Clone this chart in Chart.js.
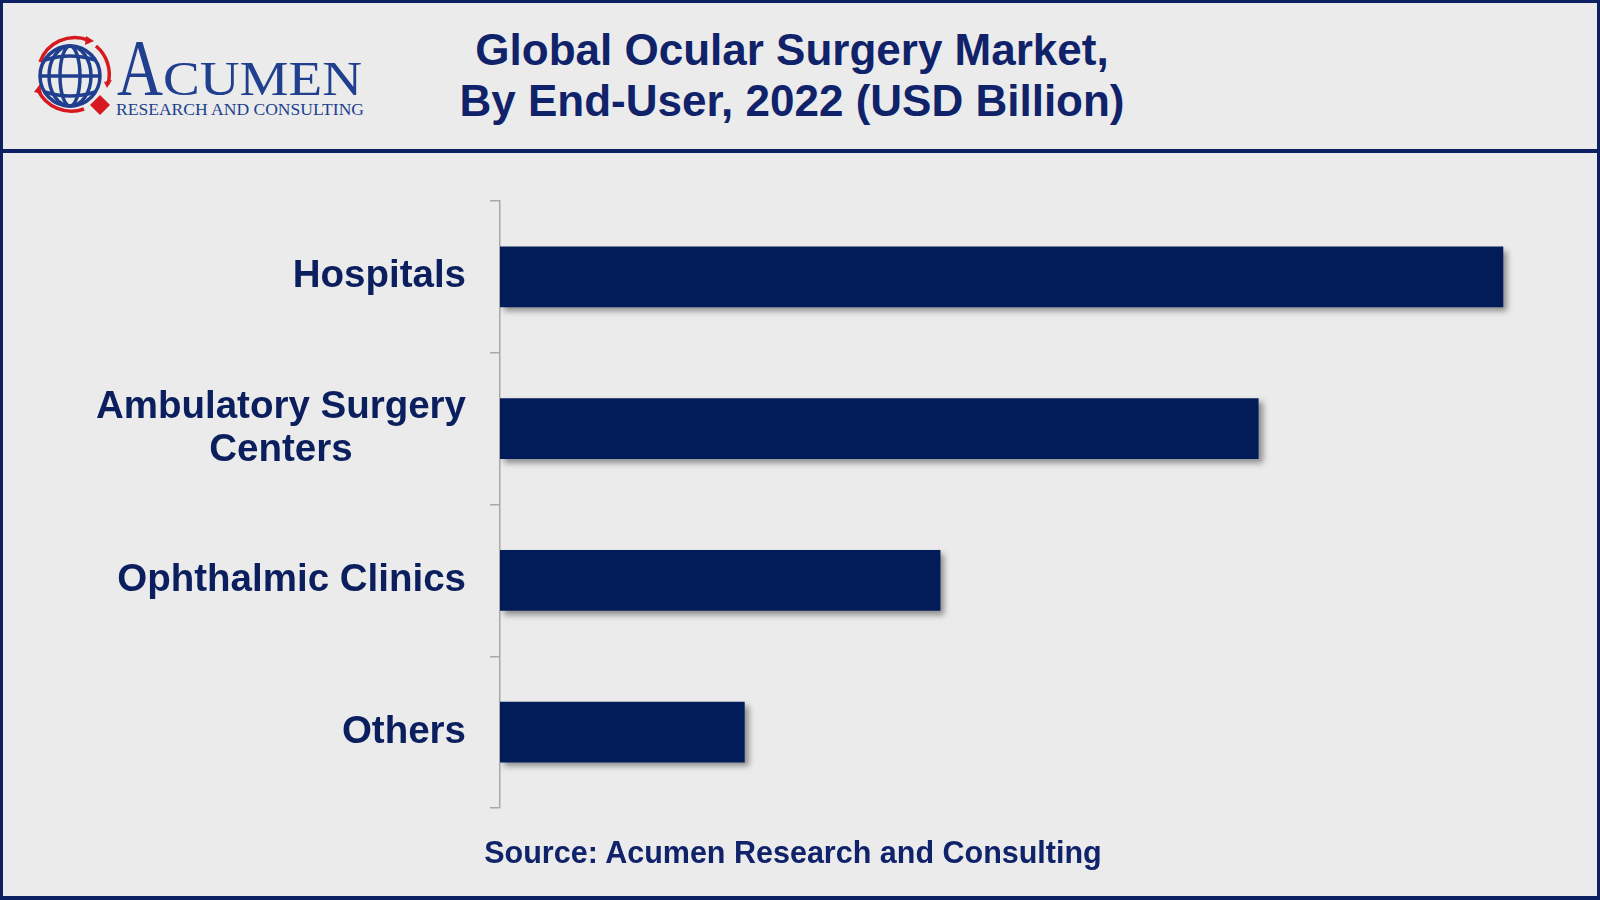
<!DOCTYPE html>
<html>
<head>
<meta charset="utf-8">
<script src="https://cdn.jsdelivr.net/npm/chart.js@4.4.1/dist/chart.umd.min.js"></script>
<style>
  body { margin: 0; background: #ebebeb; }
  #page { position: relative; width: 1600px; height: 900px; background: #ebebeb; overflow: hidden; }
  #frame { position: absolute; left: 0; top: 0; width: 1600px; height: 900px; box-sizing: border-box;
           border: 3px solid #0b2161; border-bottom-width: 4px; pointer-events: none; }
  #rule { position: absolute; left: 0; top: 149px; width: 1600px; height: 4px; background: #0b2161; }
  #title { position: absolute; left: 292px; top: 24px; width: 1000px; text-align: center;
           font: bold 44px/51px "Liberation Sans", Arial, sans-serif; color: #10236a; }
  #source { position: absolute; left: 293px; top: 834px; width: 1000px; text-align: center;
            font: bold 30.5px/36px "Liberation Sans", Arial, sans-serif; color: #10236a; }
  #logo { position: absolute; left: 0; top: 0; }
  #chart { position: absolute; left: 0; top: 155px; }
</style>
</head>
<body>
<div id="page">
  <svg id="logo" width="400" height="140" viewBox="0 0 400 140">
    <g fill="none" stroke="#d7191f" stroke-width="3.5">
      <path d="M 40 62 A 37 37 0 0 1 88 40" />
      <path d="M 96 46 A 37 37 0 0 1 108 84" />
      <path d="M 84 109 A 37 37 0 0 1 38 90" />
    </g>
    <g fill="#d7191f">
      <polygon points="86,36 94,41 85,45" />
      <polygon points="104,82 112,80 107,88" />
      <polygon points="40,84 34,92 42,94" />
      <polygon points="100,95 110,105 100,115 90,105" />
    </g>
    <g fill="none" stroke="#203f8f" stroke-width="3.5">
      <circle cx="70" cy="76" r="30" />
      <ellipse cx="70" cy="76" rx="10" ry="30" />
      <ellipse cx="70" cy="76" rx="21" ry="30" />
      <line x1="40" y1="76" x2="100" y2="76" />
      <path d="M 45 60 Q 70 52 95 60" />
      <path d="M 45 92 Q 70 100 95 92" />
    </g>
    <g fill="#203f8f" font-family="'Liberation Serif', 'DejaVu Serif', serif">
      <text x="117" y="95" font-size="80" textLength="46" lengthAdjust="spacingAndGlyphs">A</text>
      <text x="163" y="95" font-size="48" textLength="199" lengthAdjust="spacingAndGlyphs">CUMEN</text>
      <text x="116" y="115" font-size="16" textLength="248" lengthAdjust="spacingAndGlyphs">RESEARCH AND CONSULTING</text>
    </g>
  </svg>
  <div id="title">Global Ocular Surgery Market,<br>By End-User, 2022 (USD Billion)</div>
  <div id="rule"></div>
  <canvas id="chart" width="1600" height="685"></canvas>
  <div id="source">Source: Acumen Research and Consulting</div>
  <div id="frame"></div>
</div>
<script>
// 카테고리 & 값 (USD Billion, 그림에서 추정)
const categories = ['Hospitals', ['Ambulatory Surgery', 'Centers'], 'Ophthalmic Clinics', 'Others'];
const values = [4.1, 3.1, 1.8, 1.0];
const xMax = 4.25;

const barColor = '#021c5a';
const labelColor = '#0b1f5e';

// 막대 그림자
const shadowPlugin = {
    id: 'barShadow',
    beforeDatasetsDraw(chart) {
        const ctx = chart.ctx;
        ctx.save();
        ctx.shadowColor = 'rgba(0, 0, 0, 0.4)';
        ctx.shadowOffsetX = 4;
        ctx.shadowOffsetY = 4;
        ctx.shadowBlur = 6;
    },
    afterDatasetsDraw(chart) {
        chart.ctx.restore();
    }
};

// 여러 줄 라벨을 가운데 정렬해서 그리기
const labelPlugin = {
    id: 'centerLabels',
    afterDraw(chart) {
        const ctx = chart.ctx;
        const scale = chart.scales.y;
        const right = 466;
        const lineH = 43;
        ctx.save();
        ctx.font = 'bold 38.5px "Liberation Sans", Arial, sans-serif';
        ctx.fillStyle = labelColor;
        ctx.textBaseline = 'middle';
        ctx.textAlign = 'center';
        categories.forEach((label, i) => {
            const lines = Array.isArray(label) ? label : [label];
            const w = Math.max(...lines.map(l => ctx.measureText(l).width));
            const cx = right - w / 2;
            const y0 = scale.getPixelForTick(i) - (lines.length - 1) * lineH / 2;
            lines.forEach((l, j) => ctx.fillText(l, cx, y0 + j * lineH));
        });
        ctx.restore();
    }
};

const ctx = document.getElementById('chart').getContext('2d');

new Chart(ctx, {
    type: 'bar',
    data: {
        labels: categories,
        datasets: [{
            data: values,
            backgroundColor: barColor,
            categoryPercentage: 1,
            barPercentage: 0.4
        }]
    },
    options: {
        indexAxis: 'y',
        responsive: false,
        animation: false,
        layout: { padding: { top: 46, bottom: 32, left: 0, right: 60 } },
        plugins: {
            legend: { display: false },
            tooltip: { enabled: false }
        },
        scales: {
            x: { display: false, min: 0, max: xMax },
            y: {
                afterFit(scale) { scale.width = 500; },
                ticks: { display: false },
                grid: { drawOnChartArea: false, drawTicks: true, tickLength: 10, color: '#a8a8a8', lineWidth: 1.5 },
                border: { display: true, color: '#a8a8a8', width: 1.5 }
            }
        }
    },
    plugins: [shadowPlugin, labelPlugin]
});
</script>
</body>
</html>
